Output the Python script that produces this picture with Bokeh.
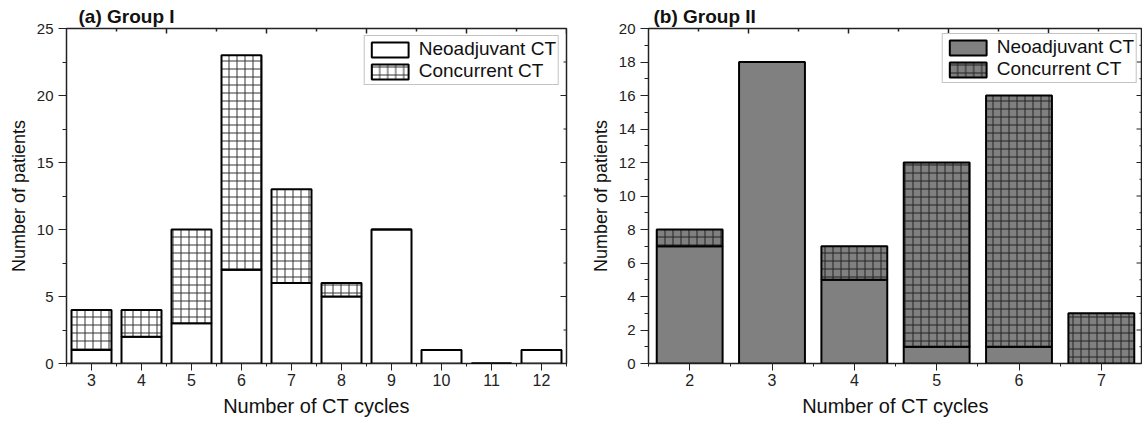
from bokeh.plotting import figure
from bokeh.models import (Range1d, SingleIntervalTicker, Legend, LegendItem,
                          ColumnDataSource)
from bokeh.layouts import row
from bokeh.transform import stack
from bokeh.embed import file_html
from bokeh.resources import INLINE

# ---- data ----
g1_cycles = [3, 4, 5, 6, 7, 8, 9, 10, 11, 12]
g1_neo = [1, 2, 3, 7, 6, 5, 10, 1, 0, 1]
g1_conc = [3, 2, 7, 16, 7, 1, 0, 0, 0, 0]

g2_cycles = [2, 3, 4, 5, 6, 7]
g2_neo = [7, 18, 5, 1, 1, 0]
g2_conc = [1, 0, 2, 11, 15, 3]

series_names = ["Neoadjuvant CT", "Concurrent CT"]
titles = ["(a) Group I", "(b) Group II"]
x_label = "Number of CT cycles"
y_label = "Number of patients"

FONT = "Liberation Sans"
TICK_COL = "#222222"


def panel(cycles, neo, conc, title, ymax, yint, fill, hatch_col, width,
          border_left, border_right, border_top, border_bottom, title_offset,
          legend_margin):
    src = ColumnDataSource(dict(x=cycles, neo=neo, conc=conc))
    frame_w = width - border_left - border_right
    x0, x1 = cycles[0] - 0.5, cycles[-1] + 0.5
    p = figure(width=width, height=421, output_backend="svg", toolbar_location=None,
               x_range=Range1d(x0, x1), y_range=Range1d(0, ymax),
               min_border_left=border_left, min_border_right=border_right,
               min_border_top=border_top, min_border_bottom=border_bottom)
    p.background_fill_color = "white"
    p.border_fill_color = "white"
    p.outline_line_color = TICK_COL
    p.outline_line_width = 1.5
    p.xgrid.visible = False
    p.ygrid.visible = False

    r_neo = p.vbar(x="x", bottom=0, top=stack("neo"), width=0.8, source=src,
                   fill_color=fill, line_color="black", line_width=2)
    r_conc = p.vbar(x="x", bottom=stack("neo"), top=stack("neo", "conc"), width=0.8,
                    source=src, fill_color=fill, line_color="black", line_width=2,
                    hatch_pattern="cross", hatch_scale=8, hatch_weight=1,
                    hatch_color=hatch_col)

    # bottom axis
    xa = p.xaxis[0]
    xa.ticker = SingleIntervalTicker(interval=1, num_minor_ticks=2)
    xa.axis_line_color = None
    xa.major_tick_out = 7
    xa.major_tick_in = 0
    xa.minor_tick_out = 3
    xa.minor_tick_in = 0
    xa.major_tick_line_color = TICK_COL
    xa.minor_tick_line_color = TICK_COL
    xa.major_label_text_font = FONT
    xa.major_label_text_font_size = "16px"
    xa.major_label_text_color = TICK_COL
    xa.major_label_standoff = 3
    xa.axis_label = x_label
    xa.axis_label_text_font = FONT
    xa.axis_label_text_font_style = "normal"
    xa.axis_label_text_font_size = "20px"
    xa.axis_label_text_color = "#111111"
    xa.axis_label_standoff = 6

    # left axis
    ya = p.yaxis[0]
    ya.ticker = SingleIntervalTicker(interval=yint, num_minor_ticks=2)
    ya.axis_line_color = None
    ya.major_tick_out = 8
    ya.major_tick_in = 0
    ya.minor_tick_out = 4
    ya.minor_tick_in = 0
    ya.major_tick_line_color = TICK_COL
    ya.minor_tick_line_color = TICK_COL
    ya.major_label_text_font = FONT
    ya.major_label_text_font_size = "15px"
    ya.major_label_text_color = TICK_COL
    ya.major_label_standoff = 5
    ya.axis_label = y_label
    ya.axis_label_text_font = FONT
    ya.axis_label_text_font_style = "normal"
    ya.axis_label_text_font_size = "18px"
    ya.axis_label_text_color = "#111111"
    ya.axis_label_standoff = 5

    # mirrored tick marks on the right edge (inward)
    n_right = int(round(ymax / (yint / 2.0)))
    right_y = [k * yint / 2.0 for k in range(1, n_right)]
    right_len = [6 if k % 2 == 0 else 3 for k in range(1, n_right)]
    p.ray(x=[x1] * len(right_y), y=right_y, length=right_len, length_units="screen",
          angle=180, angle_units="deg", line_color=TICK_COL, line_width=1)

    # tick marks on the top edge (inward, 50 px spacing as in the original)
    p.extra_x_ranges = {"top": Range1d(0, frame_w / 50.0)}
    n_top = int(frame_w // 50)
    top_x = list(range(1, n_top + 1))
    top_len = [5 if k % 2 == 0 else 3 for k in top_x]
    p.ray(x=top_x, y=[ymax] * len(top_x), length=top_len, length_units="screen",
          angle=-90, angle_units="deg", line_color=TICK_COL, line_width=1.5,
          x_range_name="top")

    p.title.text = title
    p.title.text_font = FONT
    p.title.text_font_style = "bold"
    p.title.text_font_size = "19px"
    p.title.text_color = "#111111"
    p.title.align = "left"
    p.title.offset = title_offset
    p.title.standoff = 3

    legend = Legend(items=[LegendItem(label=series_names[0], renderers=[r_neo]),
                           LegendItem(label=series_names[1], renderers=[r_conc])],
                    location="top_right", margin=legend_margin,
                    glyph_width=46, glyph_height=19, label_height=19,
                    label_text_font=FONT, label_text_font_size="19px",
                    label_text_color="#111111", label_standoff=6,
                    padding=2, spacing=0,
                    border_line_color="#888888", border_line_width=1,
                    background_fill_color="white", background_fill_alpha=1)
    p.add_layout(legend)
    return p


p1 = panel(g1_cycles, g1_neo, g1_conc, titles[0], 25, 5, "white", "#333333",
           580, 66, 14, 28, 56, 12, 7)
p2 = panel(g2_cycles, g2_neo, g2_conc, titles[1], 20, 2, "#808080", "#222222",
           562, 68, 0, 27, 58, 5, 5)

layout = row(p1, p2)
open("out.html", "w").write(file_html(layout, INLINE))
